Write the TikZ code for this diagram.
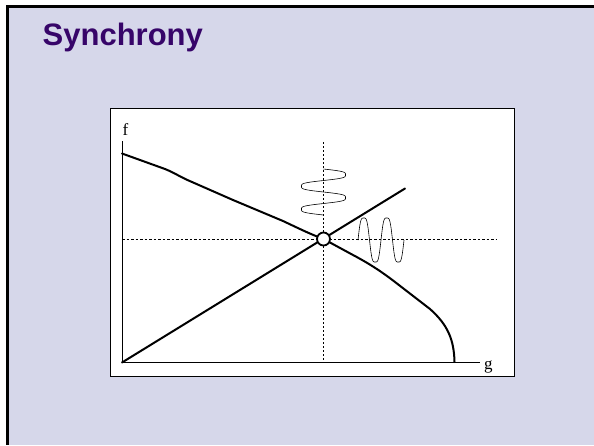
\documentclass[tikz,border=0pt]{standalone}
\usepackage{fontspec}
\setmainfont{Liberation Serif}
\setsansfont{Liberation Sans}
\definecolor{slidebg}{RGB}{214,215,234}
\definecolor{titlecol}{RGB}{55,5,105}
\begin{document}
\begin{tikzpicture}[x=1pt,y=-1pt,
  thick curve/.style={line width=2pt,line join=round,line cap=round},
  wave/.style={line width=0.6pt},
  guide/.style={line width=0.7pt,dash pattern=on 2pt off 2pt},
  axis/.style={line width=0.8pt}]
\useasboundingbox (0,0) rectangle (594,445);
\fill[white] (0,0) rectangle (594,445);
\fill[slidebg] (6,5) rectangle (594,445);
\fill[black] (6,5) rectangle (9,445);
\fill[black] (6,5) rectangle (594,7.5);
\node[anchor=base west,inner sep=0pt,text=titlecol,font=\sffamily\bfseries\fontsize{31}{33}\selectfont] (title) at (42.5,45) {Synchrony};
% chart box
\draw[fill=white,line width=0.8pt] (110,108.5) rectangle (514.5,376);
% axes
\coordinate (O) at (122,362.5);
\coordinate (ytop) at (122,141);
\coordinate (xend) at (480,362.5);
\draw[axis] (ytop) -- (O) -- (xend);
\node[anchor=base,inner sep=0pt,font=\fontsize{17}{18}\selectfont] (flab) at (125.5,135) {f};
\node[anchor=base west,inner sep=0pt,font=\fontsize{17}{18}\selectfont] (glab) at (484,369) {g};
% guide lines
\coordinate (P) at (323.5,239);
\coordinate (vtop) at (323.5,142);
\coordinate (vbot) at (323.5,362);
\coordinate (hleft) at (122,239);
\coordinate (hright) at (497,239);
\draw[guide] (vtop) -- (vbot);
\draw[guide,dash pattern=on 2.5pt off 2pt] (hleft) -- (hright);
% rising line
\coordinate (rend) at (405,188.5);
\draw[thick curve] (O) -- (rend);
% falling curve
\draw[thick curve] (122,153.5) -- (165,169) .. controls (175,173) and (180,177) .. (192,182)
  -- (233,200) -- (283,221) .. controls (300,229) and (310,234) .. (P)
  -- (353,255) .. controls (370,264) and (382,272) .. (395,282)
  -- (430,309) .. controls (448,325) and (454,340) .. (454.5,362);
% circle
\node[circle,draw,line width=1.8pt,fill=white,minimum size=13pt,inner sep=0pt] (c) at (P) {};
% vertical wave
\draw[wave,domain=0:46,samples=160,smooth,variable=\t] plot ({323.5+22*(1.5*sin(\t*15.652)-0.5*(sin(\t*15.652))^3)},{169+\t});
% horizontal wave
\draw[wave,domain=0:46,samples=160,smooth,variable=\t] plot ({358+\t},{240-22*(1.5*sin(\t*15.652)-0.5*(sin(\t*15.652))^3)});
\end{tikzpicture}
\end{document}
